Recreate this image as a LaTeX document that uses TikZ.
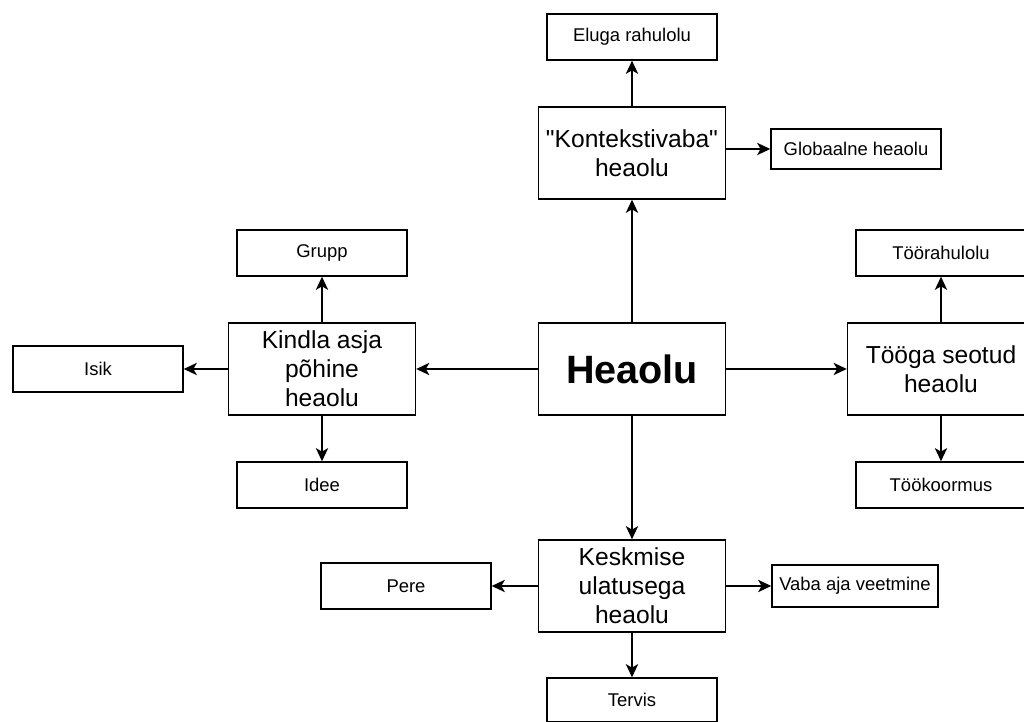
\documentclass[tikz,border=0pt]{standalone}
\usepackage{fontspec}
\setmainfont{Liberation Sans}
\usepackage{tikz}
\usetikzlibrary{arrows.meta}

\begin{document}
\begin{tikzpicture}[
    bigbox/.style={rectangle, draw=black, line width=0.8pt, align=center,
        minimum width=3.74cm, minimum height=1.84cm, inner sep=1pt,
        font=\fontsize{14}{16.5}\selectfont},
    smallbox/.style={rectangle, draw=black, line width=0.8pt, align=center,
        minimum width=3.4cm, minimum height=0.92cm,
        font=\fontsize{10.5}{12}\selectfont},
    link/.style={-{Stealth[length=7.5pt,width=7pt,inset=2pt]}, line width=0.85pt}]
\useasboundingbox (-12.64,7.38) rectangle (7.84,-7.06);

% centre
\node[bigbox, font=\fontsize{22.5}{26}\selectfont\bfseries] (heaolu) at (0,0) {Heaolu};

% up
\node[bigbox] (kontekst) at (0,4.32) {\textquotedbl Kontekstivaba\textquotedbl\\heaolu};
\node[smallbox] (eluga) at (0,6.64) {Eluga rahulolu};
\node[smallbox, minimum height=0.8cm] (globaal) at (4.48,4.4) {Globaalne heaolu};

% left
\node[bigbox] (kindla) at (-6.2,0) {Kindla asja\\põhine\\heaolu};
\node[smallbox] (grupp) at (-6.2,2.32) {Grupp};
\node[smallbox] (isik) at (-10.68,0) {Isik};
\node[smallbox] (idee) at (-6.2,-2.32) {Idee};

% right
\node[bigbox] (tooga) at (6.18,0) {Tööga seotud\\heaolu};
\node[smallbox] (toorahul) at (6.18,2.32) {Töörahulolu};
\node[smallbox] (tookoorm) at (6.18,-2.32) {Töökoormus};

% down
\node[bigbox] (keskmise) at (0,-4.34) {Keskmise\\ulatusega\\heaolu};
\node[smallbox] (pere) at (-4.52,-4.34) {Pere};
\node[smallbox, minimum width=3.32cm, minimum height=0.84cm] (vaba) at (4.46,-4.34) {Vaba aja veetmine};
\node[smallbox, minimum height=0.88cm] (tervis) at (0,-6.62) {Tervis};

\draw[link] (heaolu) -- (kontekst);
\draw[link] (heaolu) -- (kindla);
\draw[link] (heaolu) -- (tooga);
\draw[link] (heaolu) -- (keskmise);

\draw[link] (kontekst) -- (eluga);
\draw[link] (kontekst.east |- globaal) -- (globaal);

\draw[link] (kindla) -- (grupp);
\draw[link] (kindla) -- (isik);
\draw[link] (kindla) -- (idee);

\draw[link] (tooga) -- (toorahul);
\draw[link] (tooga) -- (tookoorm);

\draw[link] (keskmise) -- (pere);
\draw[link] (keskmise) -- (vaba);
\draw[link] (keskmise) -- (tervis);
\end{tikzpicture}
\end{document}
